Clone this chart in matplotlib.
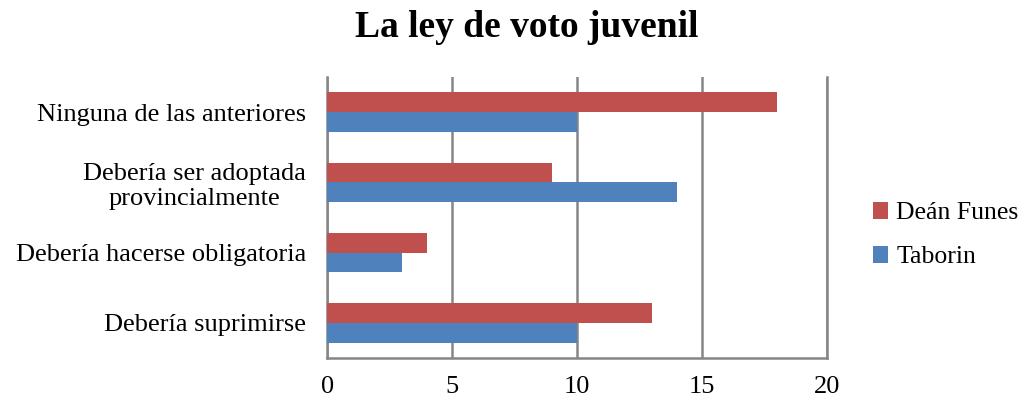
import matplotlib
matplotlib.use("Agg")
import matplotlib.pyplot as plt
import numpy as np

categories = ["Debería suprimirse", "Debería hacerse obligatoria",
              "Debería ser adoptada\nprovincialmente", "Ninguna de las anteriores"]
dean_funes = [13, 4, 9, 18]
taborin = [10, 3, 14, 10]
xticks = [0, 5, 10, 15, 20]

plt.rcParams['font.family'] = ['Liberation Serif', 'DejaVu Serif']

fig = plt.figure(figsize=(10.32, 4.03), dpi=100)
ax = fig.add_axes([0.317, 0.1117, 0.484, 0.6973])

y = np.arange(len(categories))
h = 0.28
ax.barh(y + h/2, dean_funes, height=h, color='#C0504D', label='Deán Funes', zorder=3)
ax.barh(y - h/2, taborin, height=h, color='#4F81BD', label='Taborin', zorder=3)

ax.set_xlim(0, 20)
ax.set_ylim(-0.5, 3.5)
ax.set_xticks(xticks)
ax.set_xticklabels([str(t) for t in xticks], fontsize=19)
ax.set_yticks(y)
ax.set_yticklabels(categories, fontsize=19, linespacing=1.2)
for lab in ax.get_yticklabels():
    lab.set_multialignment('center')
ax.tick_params(axis='y', length=0, pad=15)
ax.tick_params(axis='x', length=0, pad=13)
ax.grid(axis='x', color='#868686', linewidth=1.8, zorder=0)
ax.spines['top'].set_visible(False)
for s in ['left', 'bottom', 'right']:
    ax.spines[s].set_color('#868686')
    ax.spines[s].set_linewidth(1.8)

fig.suptitle('La ley de voto juvenil', fontsize=27, fontweight='bold', x=0.51, y=0.975)

fig.legend(loc='center left', bbox_to_anchor=(0.836, 0.416),
           frameon=False, fontsize=18.5, handlelength=0.6, handleheight=0.6,
           handletextpad=0.3, labelspacing=0.85, borderaxespad=0)

fig.savefig('out.png', dpi=100)
